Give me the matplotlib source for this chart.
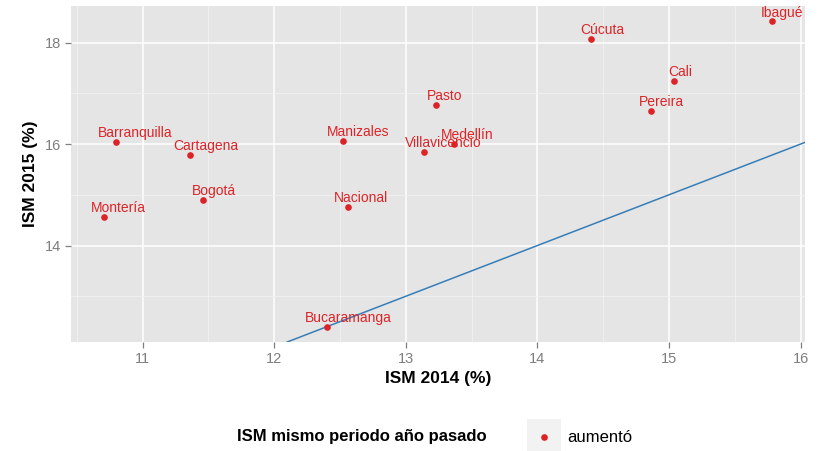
import matplotlib.pyplot as plt
import matplotlib.patches as mpatches
from matplotlib.lines import Line2D
import numpy as np

# valores (ISM %, mismo periodo)
ciudades = ["Ibagué", "Cúcuta", "Cali", "Pereira", "Pasto", "Medellín",
            "Villavicencio", "Manizales", "Barranquilla", "Cartagena",
            "Bogotá", "Nacional", "Montería", "Bucaramanga"]
ism_2014 = [15.78, 14.41, 15.04, 14.86, 13.23, 13.37,
            13.14, 12.52, 10.80, 11.36,
            11.46, 12.56, 10.71, 12.40]
ism_2015 = [18.42, 18.07, 17.24, 16.66, 16.77, 16.01,
            15.85, 16.06, 16.04, 15.79,
            14.90, 14.76, 14.57, 12.40]
x_ticks = [11, 12, 13, 14, 15, 16]
y_ticks = [14, 16, 18]
leyenda_titulo = "ISM mismo periodo año pasado"
leyenda_valor = "aumentó"

rojo = '#dc2428'
azul = '#377eb8'
gris_txt = '#7f7f7f'

plt.rcParams['font.family'] = ['Liberation Sans', 'DejaVu Sans']

W, H = 821, 451
fig = plt.figure(figsize=(W / 100, H / 100), dpi=100)
ax = fig.add_axes([71 / W, 1 - 342 / H, (805 - 71) / W, (342 - 6) / H])
ax.set_facecolor('#e5e5e5')
for s in ax.spines.values():
    s.set_visible(False)

# límites con la expansión del 5% de ggplot
xr = max(ism_2014) - min(ism_2014)
yr = max(ism_2015) - min(ism_2015)
ax.set_xlim(min(ism_2014) - 0.05 * xr, max(ism_2014) + 0.05 * xr)
ax.set_ylim(min(ism_2015) - 0.05 * yr, max(ism_2015) + 0.05 * yr)

ax.set_xticks(x_ticks)
ax.set_yticks(y_ticks)
ax.set_xticks(np.arange(10.5, 16.5, 1.0), minor=True)
ax.set_yticks([13, 15, 17], minor=True)
ax.grid(which='major', color='white', lw=1.1)
ax.grid(which='minor', color='#f2f2f2', lw=0.6)
ax.set_axisbelow(True)
ax.tick_params(which='major', length=4, width=0.9, color=gris_txt,
               labelcolor=gris_txt, labelsize=10.5, pad=3)
ax.tick_params(which='minor', length=0)

# línea de referencia y = x
ax.axline((12, 12), (16, 16), color=azul, lw=1.1, zorder=2)

ax.plot(ism_2014, ism_2015, 'o', color=rojo, ms=4.8, mec='none', zorder=3)

textos = []
for c, x, y in zip(ciudades, ism_2014, ism_2015):
    t = ax.annotate(c, (x, y), xytext=(0, 3.4), textcoords='offset points',
                    ha='left', va='baseline', color=rojo, fontsize=10,
                    annotation_clip=False, clip_on=True, zorder=4)
    textos.append(t)

fig.canvas.draw()
r = fig.canvas.get_renderer()
for t in textos:
    w = t.get_window_extent(r).width * 72 / fig.dpi
    t.set_position((-0.25 * w, 3.4))

ax.set_xlabel("ISM 2014 (%)", fontsize=12.5, fontweight='bold', labelpad=4)
ax.set_ylabel("ISM 2015 (%)", fontsize=12.5, fontweight='bold', labelpad=5)

# leyenda abajo
fig.text(237 / W, 1 - 437 / H, leyenda_titulo, fontsize=12, fontweight='bold',
         va='center', ha='left')
fig.patches.append(mpatches.Rectangle((527 / W, 1 - 454 / H), 34 / W, 35 / H,
                                      transform=fig.transFigure,
                                      facecolor='#f2f2f2', edgecolor='none'))
fig.lines.append(Line2D([544 / W], [1 - 437 / H], marker='o', color=rojo,
                        ms=4.8, mec='none', transform=fig.transFigure))
fig.text(567 / W, 1 - 437 / H, leyenda_valor, fontsize=12, va='center', ha='left')

fig.savefig('out.png', dpi=100)
